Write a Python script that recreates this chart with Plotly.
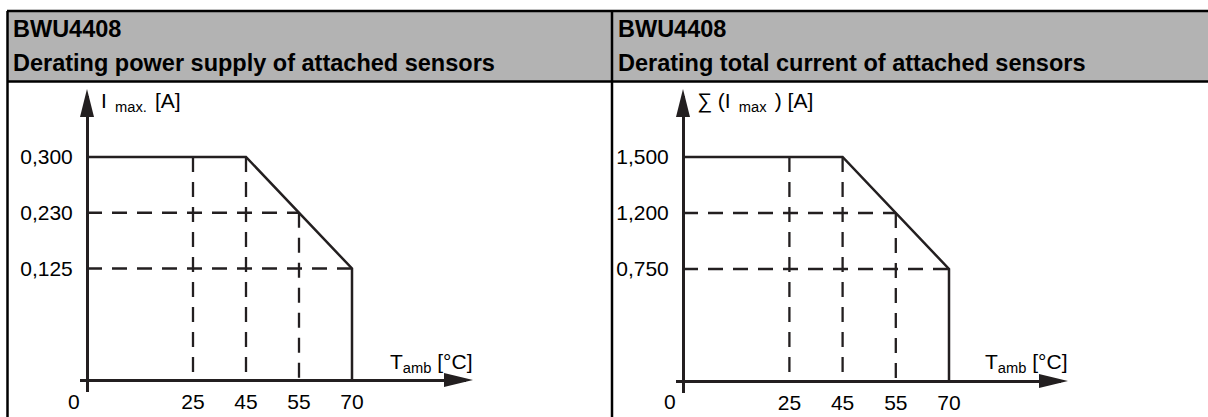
import plotly.graph_objects as go

# ---------------- data ----------------
temps_C = [0, 25, 45, 55, 70]                    # temperature tick labels [°C]
curve_T = [0, 45, 70, 70]                        # corners of the derating curve [°C]
supply_curve_A = [0.300, 0.300, 0.125, 0.0]      # I max. [A]
total_curve_A = [1.500, 1.500, 0.750, 0.0]       # sum(I max) [A]
mark_T = [25, 45, 55, 70]                        # marked operating points [°C]
supply_mark_A = [0.300, 0.300, 0.230, 0.125]
total_mark_A = [1.500, 1.500, 1.200, 0.750]
supply_ticks_A = [0.125, 0.230, 0.300]
total_ticks_A = [0.750, 1.200, 1.500]

titles = [("BWU4408", "Derating power supply of attached sensors"),
          ("BWU4408", "Derating total current of attached sensors")]
y_titles = ["I<sub>  max.  </sub>[A]", "∑ (I<sub>  max  </sub>) [A]"]
x_title = "T<sub>amb</sub> [°C]"

# ---------------- helpers ----------------
W, H = 1208, 417
INK = "#231f20"
FONT = "Liberation Sans, Arial, sans-serif"
SPACER = " "
FS = 21


def fx(px):
    return px / W


def fy(py):
    return 1 - py / H


def lab_A(v):
    return "0" if v == 0 else f"{v:.3f}".replace(".", ",")


def lab_T(v):
    return str(v)


x_cats = [lab_T(temps_C[0]), SPACER] + [lab_T(t) for t in temps_C[1:]]

fig = go.Figure()

# panel geometry (pixels): origin, unit spacing, extents
panels = [
    dict(curve=supply_curve_A, marks=supply_mark_A, ticks=supply_ticks_A,
         ox=87, oy=380, sx=53.0, sy=55.75, xl=80, xr=466, yb=392, yt=96,
         tip_x=473, tip_y=89, xa="x", ya="y"),
    dict(curve=total_curve_A, marks=total_mark_A, ticks=total_ticks_A,
         ox=683, oy=381, sx=53.2, sy=56.0, xl=676, xr=1061, yb=393, yt=96,
         tip_x=1068, tip_y=89, xa="x2", ya="y2"),
]

shapes = []
annotations = []
layout_axes = {}

for i, p in enumerate(panels):
    y_cats = [lab_A(0), SPACER] + [lab_A(v) for v in p["ticks"]]
    # derating curve
    fig.add_trace(go.Scatter(
        x=[lab_T(t) for t in curve_T], y=[lab_A(v) for v in p["curve"]],
        mode="lines", line=dict(color=INK, width=2.5),
        xaxis=p["xa"], yaxis=p["ya"], showlegend=False, hoverinfo="skip"))
    # dashed guides
    gx, gy = [], []
    top = max(p["curve"])
    for t, a in zip(mark_T, p["marks"]):
        if a < top:
            gx += [lab_T(temps_C[0]), lab_T(t), None]
            gy += [lab_A(a), lab_A(a), None]
        if t < max(curve_T):
            gx += [lab_T(t), lab_T(t), None]
            gy += [lab_A(a), lab_A(0), None]
    fig.add_trace(go.Scatter(
        x=gx, y=gy, mode="lines",
        line=dict(color=INK, width=2.3, dash="15px,10px"),
        xaxis=p["xa"], yaxis=p["ya"], showlegend=False, hoverinfo="skip"))

    xname = "xaxis" if i == 0 else "xaxis2"
    yname = "yaxis" if i == 0 else "yaxis2"
    layout_axes[xname] = dict(
        type="category", categoryorder="array", categoryarray=x_cats,
        domain=[fx(p["xl"]), fx(p["xr"])], anchor="free", position=fy(p["oy"]),
        range=[(p["xl"] - p["ox"]) / p["sx"], (p["xr"] - p["ox"]) / p["sx"]],
        showline=True, linecolor=INK, linewidth=2.5, showgrid=False, zeroline=False,
        tickmode="array", tickvals=[lab_T(t) for t in temps_C[1:]],
        ticks="", tickfont=dict(family=FONT, size=FS, color="#000"),
        ticklabelstandoff=2, fixedrange=True)
    layout_axes[yname] = dict(
        type="category", categoryorder="array", categoryarray=y_cats,
        domain=[fy(p["yb"]), fy(p["yt"])], anchor="free", position=fx(p["ox"]),
        range=[(p["oy"] - p["yb"]) / p["sy"], (p["oy"] - p["yt"]) / p["sy"]],
        showline=True, linecolor=INK, linewidth=2.5, showgrid=False, zeroline=False,
        tickmode="array", tickvals=[lab_A(v) for v in p["ticks"]],
        ticks="", tickfont=dict(family=FONT, size=FS, color="#000"),
        ticklabelstandoff=9, fixedrange=True)

    # arrowheads
    ox, oy = p["ox"], p["oy"]
    ty, tx = p["tip_y"], p["tip_x"]
    shapes.append(dict(type="path", xref="paper", yref="paper", line=dict(width=0),
                       fillcolor=INK,
                       path=f"M{fx(ox-7)},{fy(ty+28)} L{fx(ox)},{fy(ty)} L{fx(ox+7)},{fy(ty+28)} Z"))
    shapes.append(dict(type="path", xref="paper", yref="paper", line=dict(width=0),
                       fillcolor=INK,
                       path=f"M{fx(tx-29)},{fy(oy-7)} L{fx(tx)},{fy(oy)} L{fx(tx-29)},{fy(oy+7)} Z"))

    # origin label
    annotations.append(dict(text=lab_T(temps_C[0]), xref="paper", yref="paper",
                            x=fx(ox - 13), y=fy(401), xanchor="center", yanchor="middle",
                            showarrow=False, font=dict(family=FONT, size=FS, color="#000")))
    # axis titles
    annotations.append(dict(text=y_titles[i], xref="paper", yref="paper",
                            x=fx(ox + 12), y=fy(102), xanchor="left", yanchor="middle",
                            showarrow=False, font=dict(family=FONT, size=FS, color="#000")))
    annotations.append(dict(text=x_title, xref="paper", yref="paper",
                            x=fx(tx + 1), y=fy(363), xanchor="right", yanchor="middle",
                            showarrow=False, font=dict(family=FONT, size=FS, color="#000")))

# header / frame
shapes.append(dict(type="rect", xref="paper", yref="paper", x0=fx(7), x1=fx(1210),
                   y0=fy(81), y1=fy(11), fillcolor="#b3b3b3", line=dict(width=0), layer="below"))
for (x0, y0, x1, y1) in [(7, 11, 1210, 11), (7, 81.5, 1210, 81.5), (7.5, 11, 7.5, 420),
                         (612, 11, 612, 420)]:
    shapes.append(dict(type="line", xref="paper", yref="paper", x0=fx(x0), y0=fy(y0),
                       x1=fx(x1), y1=fy(y1), line=dict(color="#000", width=2.5)))

for i, (l1, l2) in enumerate(titles):
    x0 = 11 if i == 0 else 616
    annotations.append(dict(text=f"<b>{l1}</b>", xref="paper", yref="paper", x=fx(x0), y=fy(29),
                            xanchor="left", yanchor="middle", showarrow=False,
                            font=dict(family=FONT, size=23.5, color="#000")))
    annotations.append(dict(text=f"<b>{l2}</b>", xref="paper", yref="paper", x=fx(x0), y=fy(63),
                            xanchor="left", yanchor="middle", showarrow=False,
                            font=dict(family=FONT, size=23.5, color="#000")))

fig.update_layout(width=W, height=H, margin=dict(l=0, r=0, t=0, b=0, pad=0),
                  paper_bgcolor="white", plot_bgcolor="rgba(0,0,0,0)",
                  shapes=shapes, annotations=annotations, showlegend=False,
                  font=dict(family=FONT, color="#000"), **layout_axes)

fig.write_html("out.html", config={"displayModeBar": False, "staticPlot": True},
               post_script="document.body.style.margin='0';document.body.style.overflow='hidden';")
